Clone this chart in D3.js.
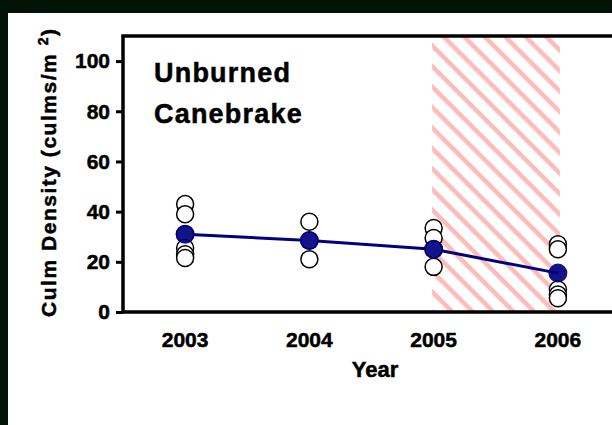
<!DOCTYPE html>
<meta charset="utf-8">
<style>
body { margin: 0; background: #021408; }
text { font-family: "Liberation Sans", Arial, sans-serif; font-weight: bold; fill: #000; stroke: #000; stroke-width: 0.5px; }
</style>
<body>
<script src="https://cdn.jsdelivr.net/npm/d3@7"></script>
<div id="content"></div>
<script>
var width = 612,
    height = 425;

// data
var years = [2003, 2004, 2005, 2006];
var meanDensity = [31, 28.5, 25, 15.5];
var plotDensity = [
  [43, 39, 31, 25.5, 23, 21.5],
  [36, 28.5, 21],
  [33.5, 29.5, 25, 18],
  [27, 25, 9, 7, 5.5]
];
var burnedYears = [2005, 2006];
var yTicks = [0, 20, 40, 60, 80, 100];
var titleLines = ["Unburned", "Canebrake"];

var font = "'Liberation Sans', Arial, sans-serif";

var svg = d3.select("#content").append("svg")
    .attr("width", width)
    .attr("height", height)
    .style("display", "block");

svg.append("rect")
    .attr("x", 0).attr("y", 0)
    .attr("width", width).attr("height", height)
    .attr("fill", "#021408");
svg.append("rect")
    .attr("x", 8).attr("y", 13)
    .attr("width", width - 8).attr("height", height - 13)
    .attr("fill", "#fff");

var x = d3.scaleBand()
    .domain(years)
    .range([123, 620])
    .padding(0);
var cx = function(yr){ return x(yr) + x.bandwidth() / 2; };

var y = d3.scaleLinear()
    .domain([0, 110])
    .range([312, 36]);

// hatch pattern for the burn period
var defs = svg.append("defs");
var pat = defs.append("pattern")
    .attr("id", "hatch")
    .attr("patternUnits", "userSpaceOnUse")
    .attr("width", 14.5)
    .attr("height", 14.5)
    .attr("patternTransform", "rotate(45)");
pat.append("rect")
    .attr("x", 0).attr("y", 0)
    .attr("width", 14.5).attr("height", 4.5)
    .attr("fill", "#ffbaba");

svg.append("rect")
    .attr("x", cx(burnedYears[0]) - 1.5)
    .attr("y", y(110))
    .attr("width", cx(burnedYears[1]) - cx(burnedYears[0]) + 3.5)
    .attr("height", y(0) - y(110))
    .attr("fill", "url(#hatch)");

// mean line
var line = d3.line()
    .x(function(d, i){ return cx(years[i]); })
    .y(function(d){ return y(d); });

svg.append("path")
    .datum(meanDensity)
    .attr("d", line)
    .attr("fill", "none")
    .attr("stroke", "#000080")
    .attr("stroke-width", 3);

// individual plots
var obs = [];
plotDensity.forEach(function(vals, i){
  vals.forEach(function(v){ obs.push({year: years[i], value: v}); });
});
svg.selectAll(".obs")
    .data(obs)
    .enter()
    .append("circle")
    .attr("class", "obs")
    .attr("cx", function(d){ return cx(d.year); })
    .attr("cy", function(d){ return y(d.value); })
    .attr("r", 8.5)
    .attr("fill", "#fff")
    .attr("stroke", "#000")
    .attr("stroke-width", 1.5);

// means
svg.selectAll(".mean")
    .data(meanDensity)
    .enter()
    .append("circle")
    .attr("class", "mean")
    .attr("cx", function(d, i){ return cx(years[i]); })
    .attr("cy", function(d){ return y(d); })
    .attr("r", 9.5)
    .attr("fill", "#000080")
    .attr("fill-opacity", 0.92);

// frame: left axis, top line, bottom axis
svg.append("path")
    .attr("d", "M" + x.range()[1] + "," + y(110) + "H" + x.range()[0] + "V" + y(0) + "H" + x.range()[1])
    .attr("fill", "none")
    .attr("stroke", "#000")
    .attr("stroke-width", 3.5);

var yAxis = svg.append("g")
    .attr("transform", "translate(" + x.range()[0] + ",0)")
    .call(d3.axisLeft(y).tickValues(yTicks).tickSize(7).tickPadding(6));
yAxis.select(".domain").remove();
yAxis.selectAll(".tick line").attr("stroke", "#000").attr("stroke-width", 3);
yAxis.selectAll(".tick text")
    .style("font-family", font)
    .style("font-weight", "bold")
    .style("font-size", "21px")
    .attr("fill", "#000");

var xAxis = svg.append("g")
    .attr("transform", "translate(0," + y(0) + ")")
    .call(d3.axisBottom(x).tickSize(0).tickPadding(20));
xAxis.select(".domain").remove();
xAxis.selectAll(".tick text")
    .style("font-family", font)
    .style("font-weight", "bold")
    .style("font-size", "21px")
    .attr("fill", "#000");

// axis titles
svg.append("text")
    .attr("x", 375)
    .attr("y", 377)
    .attr("text-anchor", "middle")
    .style("font-size", "22px")
    .text("Year");

var yl = svg.append("text")
    .attr("transform", "translate(56,173) rotate(-90)")
    .attr("text-anchor", "middle")
    .style("font-size", "21px")
    .attr("textLength", 288)
    .attr("lengthAdjust", "spacing");
yl.append("tspan").text("Culm Density (culms/m ");
yl.append("tspan").attr("dy", -8).style("font-size", "14px").text("2");
yl.append("tspan").attr("dy", 8).text(")");

// panel title
svg.selectAll(".title")
    .data(titleLines)
    .enter()
    .append("text")
    .attr("class", "title")
    .attr("x", 154)
    .attr("y", function(d, i){ return 82 + i * 41; })
    .style("font-size", "27px")
    .style("letter-spacing", "1.2px")
    .text(function(d){ return d; });
</script>
</body>
